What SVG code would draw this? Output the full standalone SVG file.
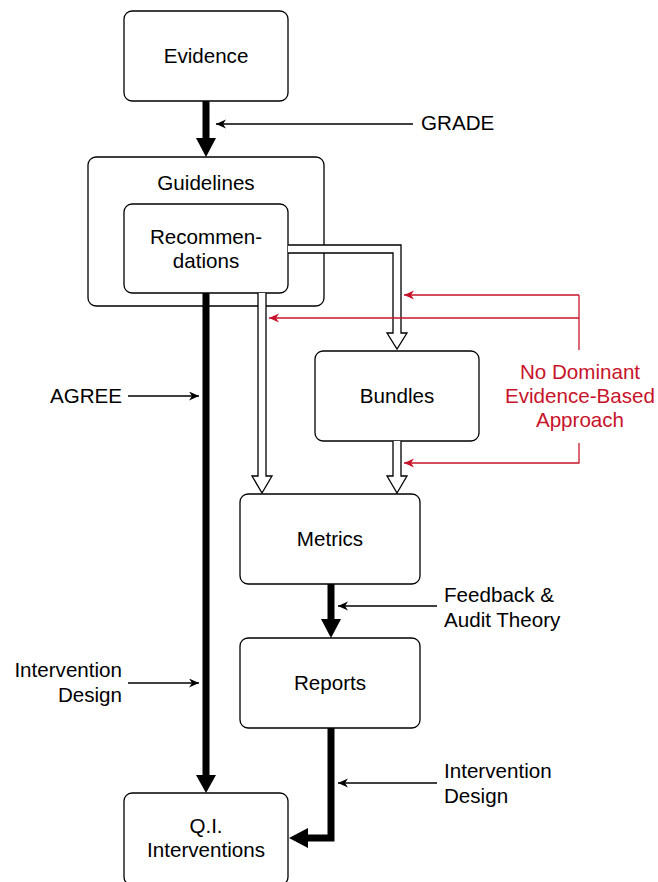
<svg xmlns="http://www.w3.org/2000/svg" width="658" height="882" viewBox="0 0 658 882">
<style>
.box{fill:#fff;stroke:#000;stroke-width:1.3}
.t{font-family:"Liberation Sans",Arial,Helvetica,sans-serif;font-size:20.6px;fill:#000;text-anchor:middle}
.tl{font-family:"Liberation Sans",Arial,Helvetica,sans-serif;font-size:20.6px;fill:#000;text-anchor:start}
.tr{font-family:"Liberation Sans",Arial,Helvetica,sans-serif;font-size:20.6px;fill:#000;text-anchor:end}
.red{font-family:"Liberation Sans",Arial,Helvetica,sans-serif;font-size:20.6px;fill:#c8142a;text-anchor:middle}
.thick{fill:none;stroke:#000;stroke-width:7;stroke-linejoin:miter}
.thin{fill:none;stroke:#000;stroke-width:1.3;marker-end:url(#arr)}
.rl{fill:none;stroke:#c8142a;stroke-width:1.3}
.ra{fill:none;stroke:#c8142a;stroke-width:1.3;marker-end:url(#rarr)}
.hollow{fill:#fff;stroke:#000;stroke-width:1.3;stroke-linejoin:miter}
</style>
<defs>
<marker id="arr" markerUnits="userSpaceOnUse" markerWidth="12" markerHeight="10" refX="10" refY="4.5" orient="auto">
<path d="M0,0 L10,4.5 L0,9 L3,4.5 Z" fill="#000"/>
</marker>
<marker id="rarr" markerUnits="userSpaceOnUse" markerWidth="12" markerHeight="10" refX="10" refY="4.5" orient="auto">
<path d="M0,0 L10,4.5 L0,9 L3,4.5 Z" fill="#c8142a"/>
</marker>
</defs>

<g id="guidelines">
<rect class="box" x="88" y="157" width="236" height="149" rx="8"/>
<text class="t" x="206" y="190">Guidelines</text>
</g>
<g id="evidence">
<rect class="box" x="124" y="11" width="164" height="90" rx="8"/>
<text class="t" x="206" y="63">Evidence</text>
</g>
<g id="recommendations">
<rect class="box" x="124" y="204" width="164" height="89" rx="8"/>
<text class="t" x="206" y="244">Recommen-</text>
<text class="t" x="206" y="268">dations</text>
</g>
<g id="bundles">
<rect class="box" x="315" y="351" width="164" height="90" rx="8"/>
<text class="t" x="397" y="403">Bundles</text>
</g>
<g id="metrics">
<rect class="box" x="240" y="494" width="180" height="90" rx="8"/>
<text class="t" x="330" y="546">Metrics</text>
</g>
<g id="reports">
<rect class="box" x="240" y="638" width="180" height="90" rx="8"/>
<text class="t" x="330" y="690">Reports</text>
</g>
<g id="qi">
<rect class="box" x="124" y="793" width="164" height="92" rx="8"/>
<text class="t" x="206" y="833">Q.I.</text>
<text class="t" x="206" y="857">Interventions</text>
</g>
<g id="labels">
<text class="tl" x="421" y="130">GRADE</text>
<text class="tr" x="122" y="403">AGREE</text>
<text class="tr" x="122" y="677">Intervention</text>
<text class="tr" x="122" y="702">Design</text>
<text class="tl" x="444" y="602">Feedback &amp;</text>
<text class="tl" x="444" y="627">Audit Theory</text>
<text class="tl" x="444" y="778">Intervention</text>
<text class="tl" x="444" y="803">Design</text>
</g>
<g id="no-dominant">
<text class="red" x="580" y="379">No Dominant</text>
<text class="red" x="580" y="403">Evidence-Based</text>
<text class="red" x="580" y="427">Approach</text>
</g>

<g id="connectors">
<path class="thick" d="M206,101 V139"/>
<polygon points="196,138 216,138 206,157" fill="#000"/>
<path class="thick" d="M206,293 V776"/>
<polygon points="196,775 216,775 206,793" fill="#000"/>
<path class="thick" d="M331,584 V620"/>
<polygon points="321,619 341,619 331,638" fill="#000"/>
<path class="thick" d="M331,728 V838 H307"/>
<polygon points="308,828 308,848 289,838" fill="#000"/>
<path class="hollow" d="M288,245 H401 V333 H407 L397,349 L387,333 H393 V253 H288"/>
<path class="hollow" d="M258,293 V476 H252 L262,493 L272,476 H266 V293"/>
<path class="hollow" d="M393,441 V476 H387 L397,493 L407,476 H401 V441"/>
<path class="thin" d="M413,124 H216"/>
<path class="thin" d="M128,396 H199"/>
<path class="thin" d="M128,683 H199"/>
<path class="thin" d="M437,606 H338"/>
<path class="thin" d="M437,783 H338"/>
<path class="rl" d="M579,350 V295"/>
<path class="ra" d="M579,295 H404"/>
<path class="ra" d="M579,318 H269"/>
<path class="ra" d="M579,443 V463 H404"/>
</g>
</svg>
